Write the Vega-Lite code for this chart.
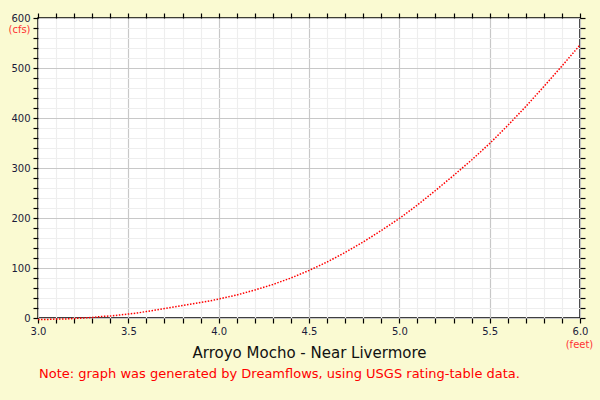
{
  "$schema": "https://vega.github.io/schema/vega-lite/v6.json",
  "autosize": {"type": "none"},
  "width": 542,
  "height": 300,
  "padding": {"left": 38, "top": 18, "right": 20, "bottom": 82},
  "background": "#fafad2",
  "config": {
    "view": {"fill": "white", "stroke": "black", "strokeWidth": 1.5},
    "font": "DejaVu Sans"
  },
  "title": {
    "text": "Note: graph was generated by Dreamflows, using USGS rating-table data.",
    "orient": "bottom",
    "anchor": "start",
    "color": "#ff0000",
    "font": "DejaVu Sans",
    "fontSize": 13,
    "fontWeight": "normal",
    "offset": 8,
    "dx": 31
  },
  "data": {
    "values": [
      {"ft": 3.0, "cfs": -3}, {"ft": 3.05, "cfs": -3}, {"ft": 3.1, "cfs": -2}, {"ft": 3.15, "cfs": -2},
      {"ft": 3.2, "cfs": -1}, {"ft": 3.25, "cfs": 0}, {"ft": 3.3, "cfs": 1}, {"ft": 3.35, "cfs": 3},
      {"ft": 3.4, "cfs": 4}, {"ft": 3.45, "cfs": 6}, {"ft": 3.5, "cfs": 8}, {"ft": 3.55, "cfs": 10},
      {"ft": 3.6, "cfs": 13}, {"ft": 3.65, "cfs": 16}, {"ft": 3.7, "cfs": 19}, {"ft": 3.75, "cfs": 22},
      {"ft": 3.8, "cfs": 25}, {"ft": 3.85, "cfs": 28}, {"ft": 3.9, "cfs": 31}, {"ft": 3.95, "cfs": 34},
      {"ft": 4.0, "cfs": 38}, {"ft": 4.1, "cfs": 46}, {"ft": 4.2, "cfs": 56}, {"ft": 4.3, "cfs": 67},
      {"ft": 4.4, "cfs": 80}, {"ft": 4.5, "cfs": 95}, {"ft": 4.6, "cfs": 112}, {"ft": 4.7, "cfs": 131},
      {"ft": 4.8, "cfs": 152}, {"ft": 4.9, "cfs": 175}, {"ft": 5.0, "cfs": 199}, {"ft": 5.1, "cfs": 226},
      {"ft": 5.2, "cfs": 255}, {"ft": 5.3, "cfs": 285}, {"ft": 5.4, "cfs": 316}, {"ft": 5.5, "cfs": 349},
      {"ft": 5.6, "cfs": 385}, {"ft": 5.7, "cfs": 423}, {"ft": 5.8, "cfs": 463}, {"ft": 5.9, "cfs": 504},
      {"ft": 6.0, "cfs": 546}
    ]
  },
  "layer": [
    {
      "mark": {"type": "line", "color": "#ff0000", "strokeWidth": 1.5, "strokeDash": [1.5, 1.5], "clip": false},
      "encoding": {
        "x": {
          "field": "ft", "type": "quantitative",
          "scale": {"domain": [3, 6], "nice": false, "zero": false},
          "axis": {
            "orient": "bottom",
            "values": [3.0,3.1,3.2,3.3,3.4,3.5,3.6,3.7,3.8,3.9,4.0,4.1,4.2,4.3,4.4,4.5,4.6,4.7,4.8,4.9,5.0,5.1,5.2,5.3,5.4,5.5,5.6,5.7,5.8,5.9,6.0],
            "labelExpr": "abs(datum.value*2 - round(datum.value*2)) < 0.01 ? format(datum.value, '.1f') : ''",
            "grid": true,
            "gridColor": {"condition": {"test": "abs(datum.value*2 - round(datum.value*2)) < 0.01", "value": "#c8c8c8"}, "value": "#eeeeee"},
            "gridWidth": 1.2,
            "domain": false,
            "ticks": true, "tickColor": "black", "tickSize": 5, "tickWidth": 1.2,
            "labelFontSize": 10, "labelColor": "#1a1a3a", "labelPadding": 3, "labelFlush": false,
            "title": "Arroyo Mocho - Near Livermore",
            "titleFontSize": 15, "titleFontWeight": "normal", "titleColor": "#111111",
            "titleX": 271, "titleY": 34, "titleBaseline": "middle", "titleAnchor": "middle"
          }
        },
        "y": {
          "field": "cfs", "type": "quantitative",
          "scale": {"domain": [0, 600], "nice": false},
          "axis": {
            "orient": "left",
            "values": [0,20,40,60,80,100,120,140,160,180,200,220,240,260,280,300,320,340,360,380,400,420,440,460,480,500,520,540,560,580,600],
            "labelExpr": "datum.value % 100 == 0 ? datum.value : ''",
            "grid": true,
            "gridColor": {"condition": {"test": "datum.value % 100 == 0", "value": "#c8c8c8"}, "value": "#eeeeee"},
            "gridWidth": 1.2,
            "domain": false,
            "ticks": true, "tickColor": "black", "tickSize": 5, "tickWidth": 1.2,
            "labelFontSize": 10, "labelColor": "#1a1a3a", "labelPadding": 3, "labelFlush": false,
            "title": "(cfs)",
            "titleAngle": 0, "titleFontSize": 10, "titleFontWeight": "normal", "titleColor": "#ff3333",
            "titleX": -19, "titleY": 11, "titleAlign": "center", "titleBaseline": "middle"
          }
        }
      }
    },
    {
      "mark": {"type": "line", "opacity": 0},
      "encoding": {
        "x": {
          "field": "ft", "type": "quantitative",
          "scale": {"domain": [3, 6], "nice": false, "zero": false},
          "axis": {
            "orient": "top",
            "values": [3.0,3.1,3.2,3.3,3.4,3.5,3.6,3.7,3.8,3.9,4.0,4.1,4.2,4.3,4.4,4.5,4.6,4.7,4.8,4.9,5.0,5.1,5.2,5.3,5.4,5.5,5.6,5.7,5.8,5.9,6.0],
            "labels": false, "grid": false, "domain": false,
            "tickColor": "black", "tickSize": 5, "tickWidth": 1.2,
            "title": "(feet)",
            "titleFontSize": 10, "titleFontWeight": "normal", "titleColor": "#ff3333",
            "titleX": 541, "titleY": 326, "titleAlign": "center", "titleBaseline": "middle"
          }
        },
        "y": {
          "field": "cfs", "type": "quantitative",
          "scale": {"domain": [0, 600], "nice": false},
          "axis": {
            "orient": "right",
            "values": [0,20,40,60,80,100,120,140,160,180,200,220,240,260,280,300,320,340,360,380,400,420,440,460,480,500,520,540,560,580,600],
            "labels": false, "grid": false, "domain": false,
            "tickColor": "black", "tickSize": 5, "tickWidth": 1.2,
            "title": null
          }
        }
      }
    }
  ],
  "resolve": {"axis": {"x": "independent", "y": "independent"}}
}
